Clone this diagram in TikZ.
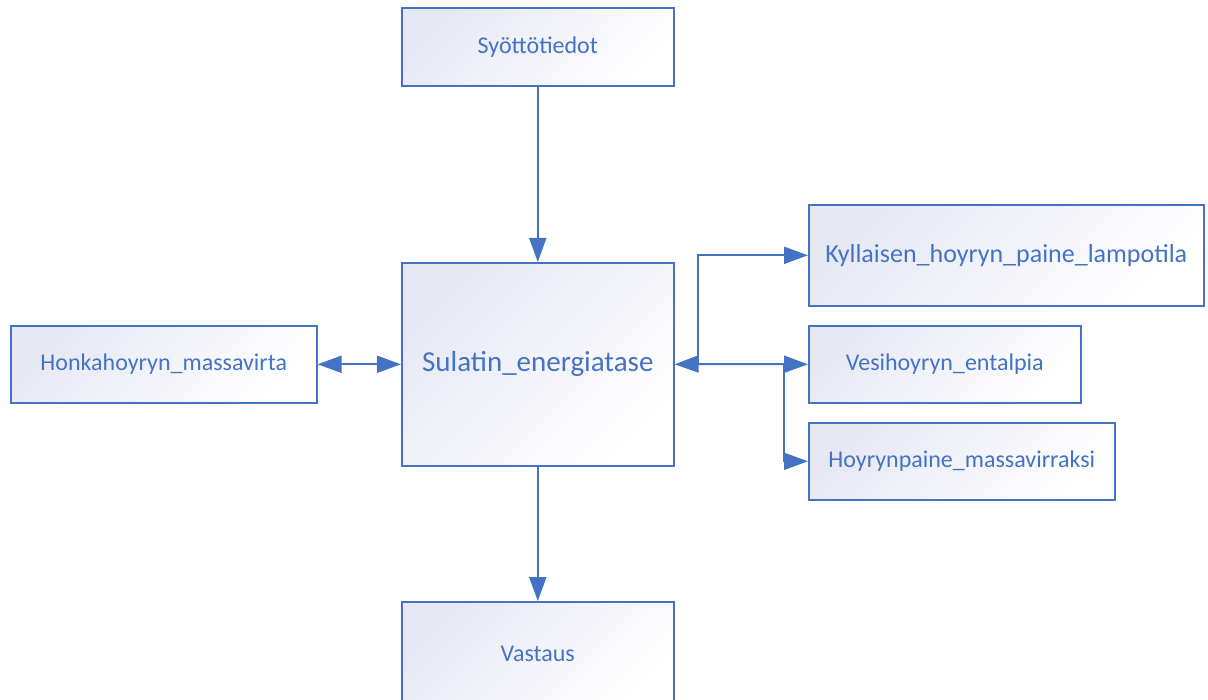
\documentclass[tikz,border=0pt]{standalone}
\usepackage{fontspec}
\setmainfont{Carlito}
\usetikzlibrary{arrows.meta}
\definecolor{bl}{HTML}{4472C4}
\definecolor{lav}{HTML}{E6E8F4}
\tikzset{
  box/.style={draw=bl, line width=1.6pt, top color=lav, bottom color=white, shading angle=45,
    text=bl, font=\fontsize{24}{28}\selectfont, inner sep=0pt, anchor=north west},
  conn/.style={draw=bl, line width=2pt, -{Triangle[length=24pt,width=17pt]}},
}
\begin{document}
\begin{tikzpicture}[x=1pt,y=-1pt]
\useasboundingbox (0,0) rectangle (1208,700);
\begin{scope}
\clip (0,0) rectangle (1208,700);
\node[box, minimum width=272pt, minimum height=78pt] (syo) at (401,7) {Syöttötiedot};
\node[box, minimum width=272pt, minimum height=203pt, font=\fontsize{29}{33}\selectfont] (sul) at (401,262) {Sulatin\_energiatase};
\node[box, minimum width=272pt, minimum height=104pt] (vas) at (401,601) {Vastaus};
\node[box, minimum width=306pt, minimum height=77pt] (hon) at (10,325) {Honkahoyryn\_massavirta};
\node[box, minimum width=395pt, minimum height=101pt, font=\fontsize{26}{30}\selectfont] (kyl) at (808,204) {Kyllaisen\_hoyryn\_paine\_lampotila};
\node[box, minimum width=272pt, minimum height=77pt] (ves) at (808,325) {Vesihoyryn\_entalpia};
\node[box, minimum width=306pt, minimum height=77pt] (hoy) at (808,422) {Hoyrynpaine\_massavirraksi};
\end{scope}
\coordinate (j1) at (698,364);
\coordinate (j2) at (784,364);
\draw[conn] (syo.south) -- (sul.north);
\draw[conn] (sul.south) -- (vas.north);
\draw[conn, {Triangle[length=24pt,width=17pt]}-{Triangle[length=24pt,width=17pt]}] (hon.east) -- (sul.west);
\draw[conn] (j1) -- (sul.east);
\draw[conn] (j1) -- (ves.west);
\draw[conn] (j1) |- (kyl.west);
\draw[conn] (j2) |- (hoy.west);
\end{tikzpicture}
\end{document}
